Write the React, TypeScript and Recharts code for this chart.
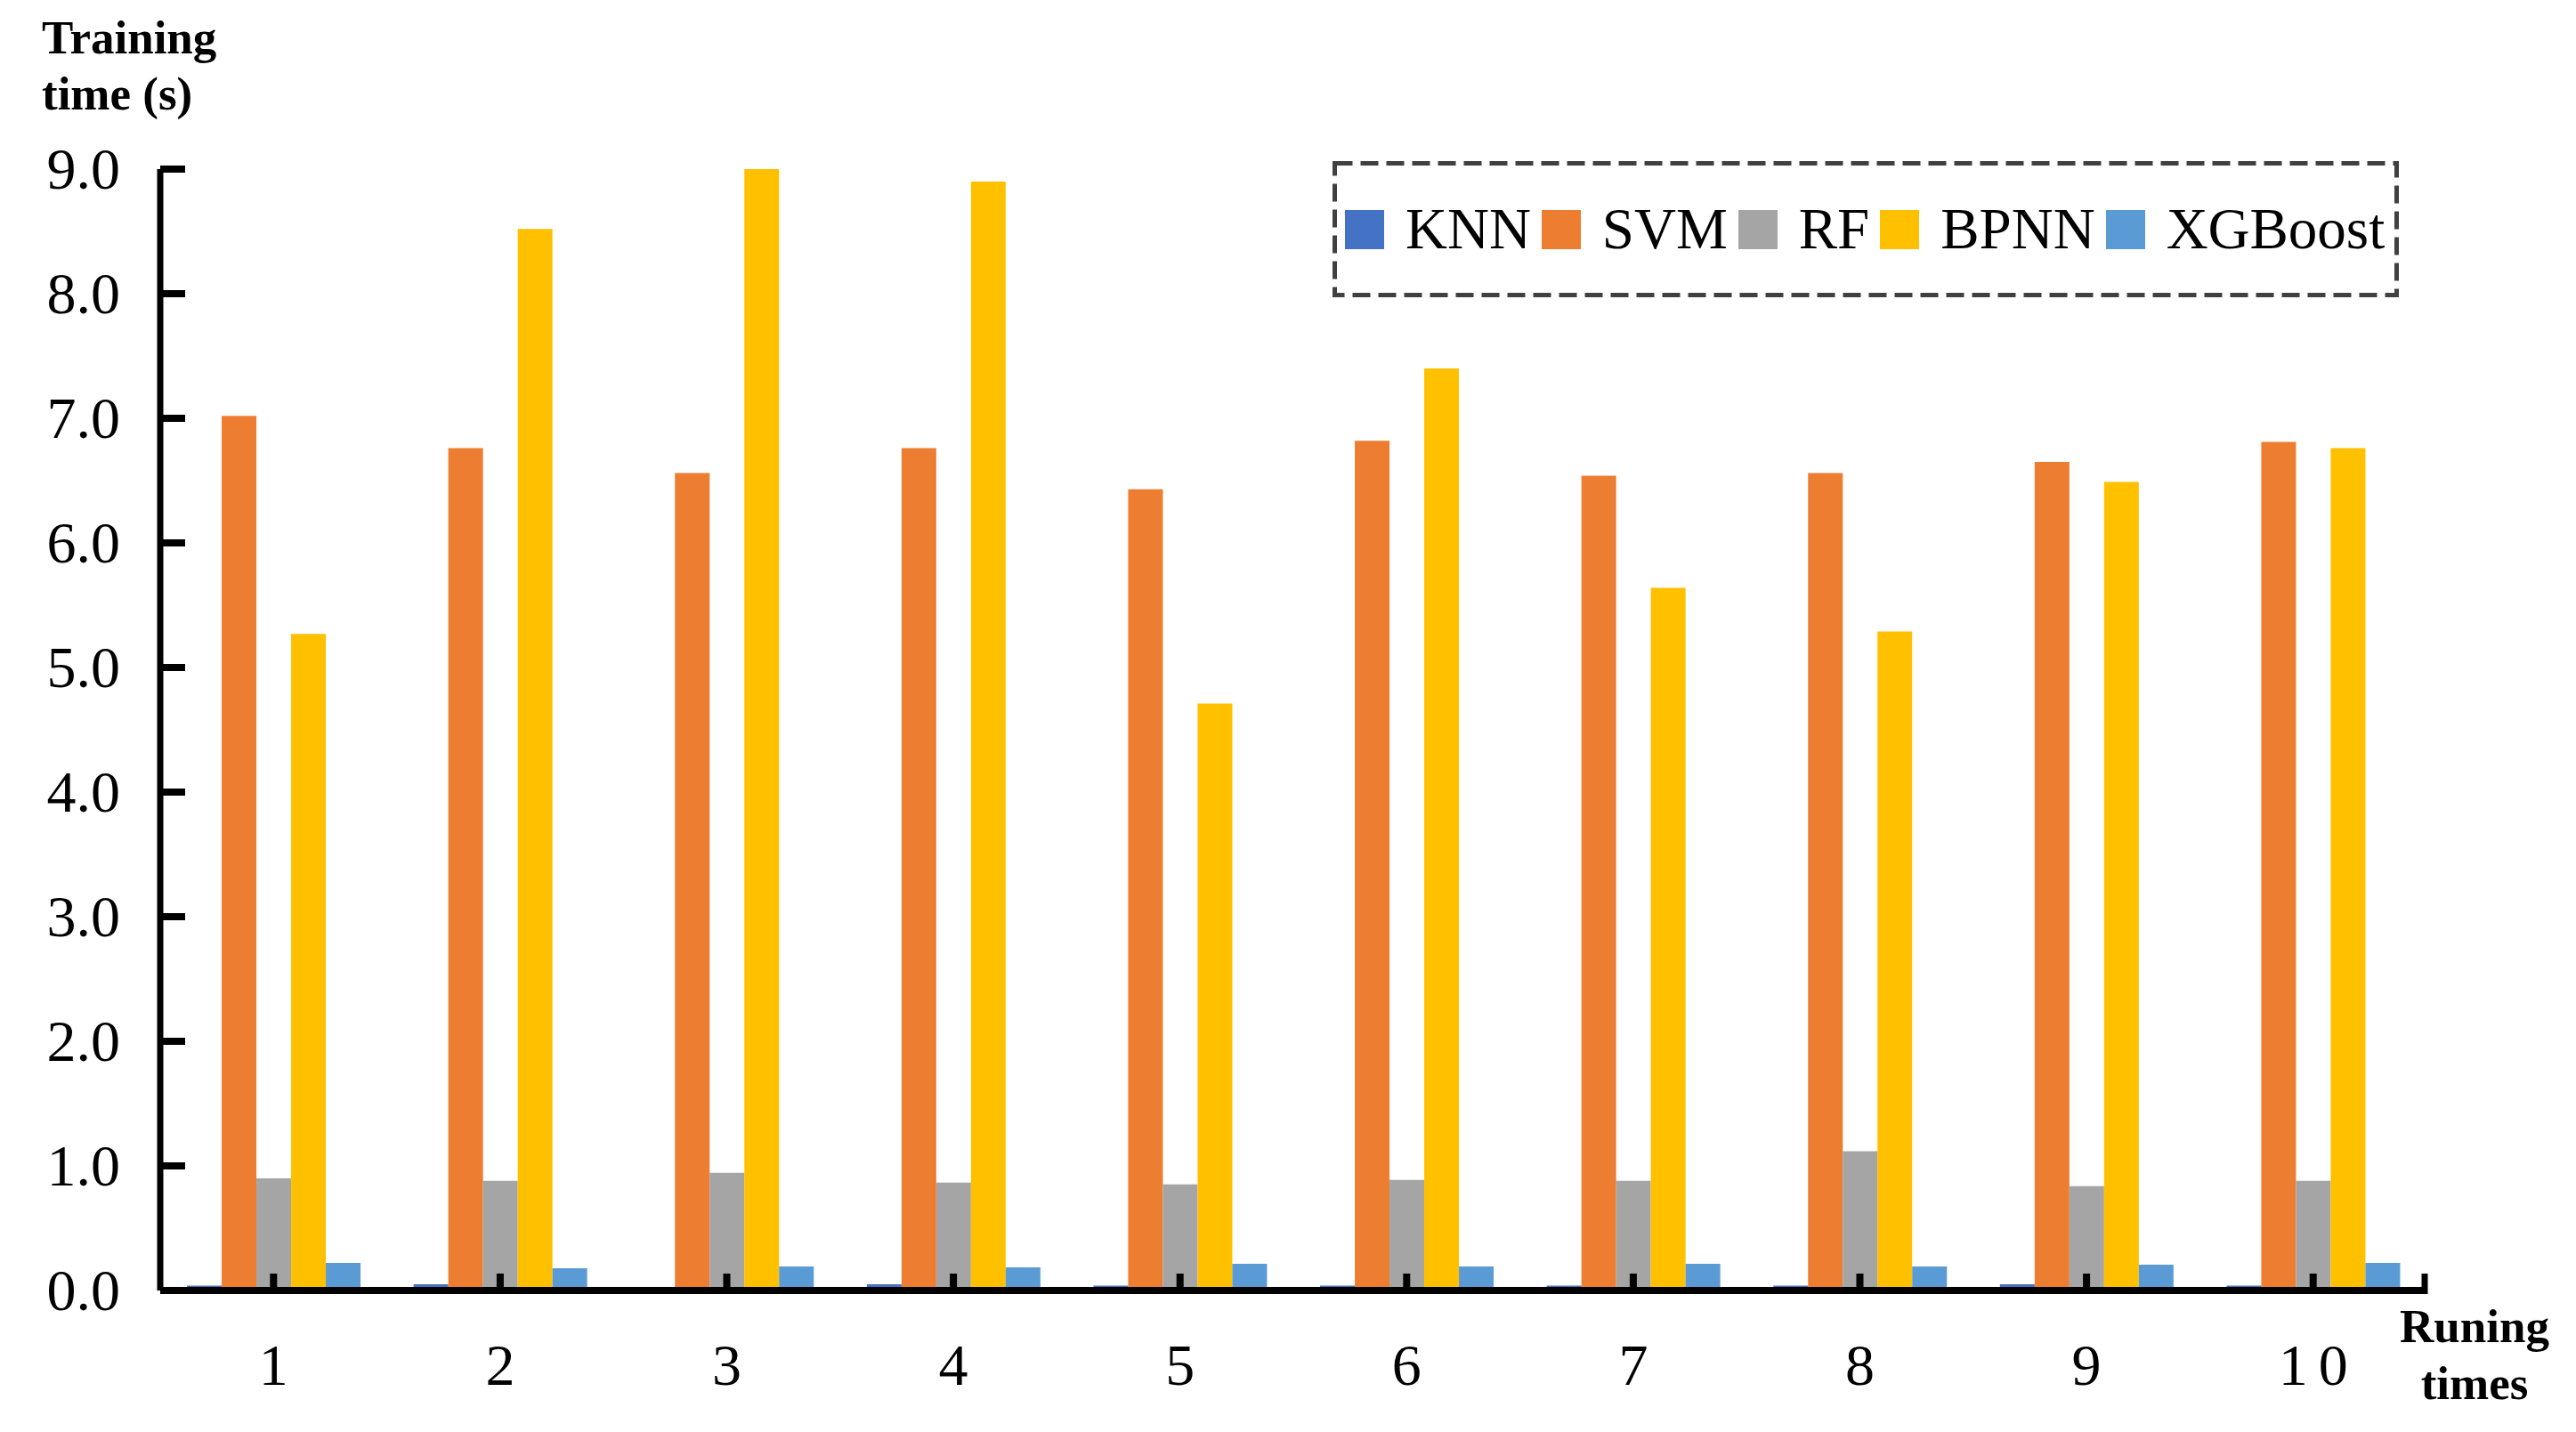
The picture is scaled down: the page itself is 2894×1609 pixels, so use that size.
import { Bar, BarChart, Label, Legend, XAxis, YAxis } from "recharts";

const runs = ["1", "2", "3", "4", "5", "6", "7", "8", "9", "10"];
const knn = [0.04, 0.05, 0.02, 0.05, 0.04, 0.04, 0.04, 0.04, 0.05, 0.04];
const svm = [7.02, 6.76, 6.56, 6.76, 6.43, 6.82, 6.54, 6.56, 6.65, 6.81];
const rf = [0.9, 0.88, 0.945, 0.866, 0.852, 0.888, 0.881, 1.117, 0.838, 0.881];
const bpnn = [5.27, 8.52, 9.0, 8.9, 4.71, 7.4, 5.64, 5.29, 6.49, 6.76];
const xgboost = [0.222, 0.179, 0.193, 0.186, 0.215, 0.193, 0.215, 0.193, 0.208, 0.222];
const yTicks = [0, 1, 2, 3, 4, 5, 6, 7, 8, 9];

const series = [
  { key: "KNN", values: knn, color: "#4472C4" },
  { key: "SVM", values: svm, color: "#ED7D31" },
  { key: "RF", values: rf, color: "#A5A5A5" },
  { key: "BPNN", values: bpnn, color: "#FFC000" },
  { key: "XGBoost", values: xgboost, color: "#5B9BD5" },
];
const seriesOrder = series.map((s) => s.key);

const data = runs.map((run, i) => {
  const row: Record<string, string | number> = { run };
  series.forEach((s) => {
    row[s.key] = s.values[i];
  });
  return row;
});

const FONT = '"Liberation Serif", "Times New Roman", serif';

function YTick(props: any) {
  const { x, y, payload } = props;
  return (
    <g>
      <line x1={x} x2={x + 28} y1={y} y2={y} stroke="#000" strokeWidth={8} />
      <text x={x - 45} y={y + 22} textAnchor="end" fontSize={66} fontFamily={FONT} fill="#000">
        {Number(payload.value).toFixed(1)}
      </text>
    </g>
  );
}

function XTick(props: any) {
  const { x, y, payload, index } = props;
  const label = String(payload.value);
  const wide = label.length > 1;
  const half = typeof payload.offset === "number" ? payload.offset : 127.3;
  return (
    <g>
      <line x1={x} x2={x} y1={y} y2={y - 19} stroke="#000" strokeWidth={8} />
      {index === runs.length - 1 && (
        <line x1={x + half - 2} x2={x + half - 2} y1={y + 4} y2={y - 19} stroke="#000" strokeWidth={7} />
      )}
      <text
        x={wide ? x + 6 : x}
        y={y + 106}
        textAnchor="middle"
        fontSize={66}
        fontFamily={FONT}
        letterSpacing={wide ? 12 : 0}
        fill="#000"
      >
        {label}
      </text>
    </g>
  );
}

function LegendBox({ payload }: any) {
  const items = [...(payload || [])].sort(
    (a: any, b: any) => seriesOrder.indexOf(a.value) - seriesOrder.indexOf(b.value)
  );
  return (
    <div style={{ position: "relative", width: 1198, height: 153 }}>
      <svg width={1198} height={153} style={{ position: "absolute", left: 0, top: 0 }}>
        <rect
          x={2.5}
          y={2.5}
          width={1193}
          height={148}
          fill="none"
          stroke="#404040"
          strokeWidth={5}
          strokeDasharray="20 9"
        />
      </svg>
      <div
        style={{
          position: "absolute",
          left: 14,
          top: 0,
          height: 153,
          display: "flex",
          alignItems: "center",
          fontFamily: FONT,
          fontSize: 65,
          lineHeight: 1,
          color: "#000",
        }}
      >
        {items.map((entry: any) => (
          <div key={entry.value} style={{ display: "flex", alignItems: "center", marginRight: 12 }}>
            <span style={{ width: 44, height: 44, background: entry.color, marginRight: 24 }} />
            <span>{entry.value}</span>
          </div>
        ))}
      </div>
    </div>
  );
}

export default function App() {
  return (
    <div style={{ position: "absolute", left: 0, top: 0, width: 2894, height: 1609, background: "#fff" }}>
      <BarChart
        width={2894}
        height={1609}
        data={data}
        margin={{ top: 190, right: 168, bottom: 0, left: 0 }}
        barCategoryGap="11.8%"
        barGap={0}
      >
        <XAxis
          dataKey="run"
          height={159}
          tick={<XTick />}
          tickLine={false}
          tickSize={0}
          tickMargin={0}
          axisLine={{ stroke: "#000", strokeWidth: 8 }}
          interval={0}
        >
          <Label
            content={(p: any) => {
              const vb = p.viewBox;
              const cx = vb.x + vb.width + 54;
              return (
                <g>
                  <text x={cx} y={vb.y + 58} textAnchor="middle" fontSize={53} fontWeight="bold" fontFamily={FONT}>
                    Runing
                  </text>
                  <text x={cx} y={vb.y + 122} textAnchor="middle" fontSize={53} fontWeight="bold" fontFamily={FONT}>
                    times
                  </text>
                </g>
              );
            }}
          />
        </XAxis>
        <YAxis
          width={180}
          domain={[0, 9]}
          ticks={yTicks}
          tick={<YTick />}
          tickLine={false}
          tickSize={0}
          tickMargin={0}
          axisLine={{ stroke: "#000", strokeWidth: 7 }}
        >
          <Label
            content={(p: any) => {
              const vb = p.viewBox;
              return (
                <g>
                  <text x={vb.x + 47} y={vb.y - 130} fontSize={53} fontWeight="bold" fontFamily={FONT}>
                    Training
                  </text>
                  <text x={vb.x + 47} y={vb.y - 67} fontSize={53} fontWeight="bold" fontFamily={FONT}>
                    time (s)
                  </text>
                </g>
              );
            }}
          />
        </YAxis>
        <Legend
          layout="horizontal"
          verticalAlign="middle"
          align="center"
          content={<LegendBox />}
          wrapperStyle={{ left: 1497, top: 181, width: 1198, height: 153 }}
        />
        {series.map((s) => (
          <Bar key={s.key} dataKey={s.key} fill={s.color} isAnimationActive={false} />
        ))}
      </BarChart>
    </div>
  );
}
